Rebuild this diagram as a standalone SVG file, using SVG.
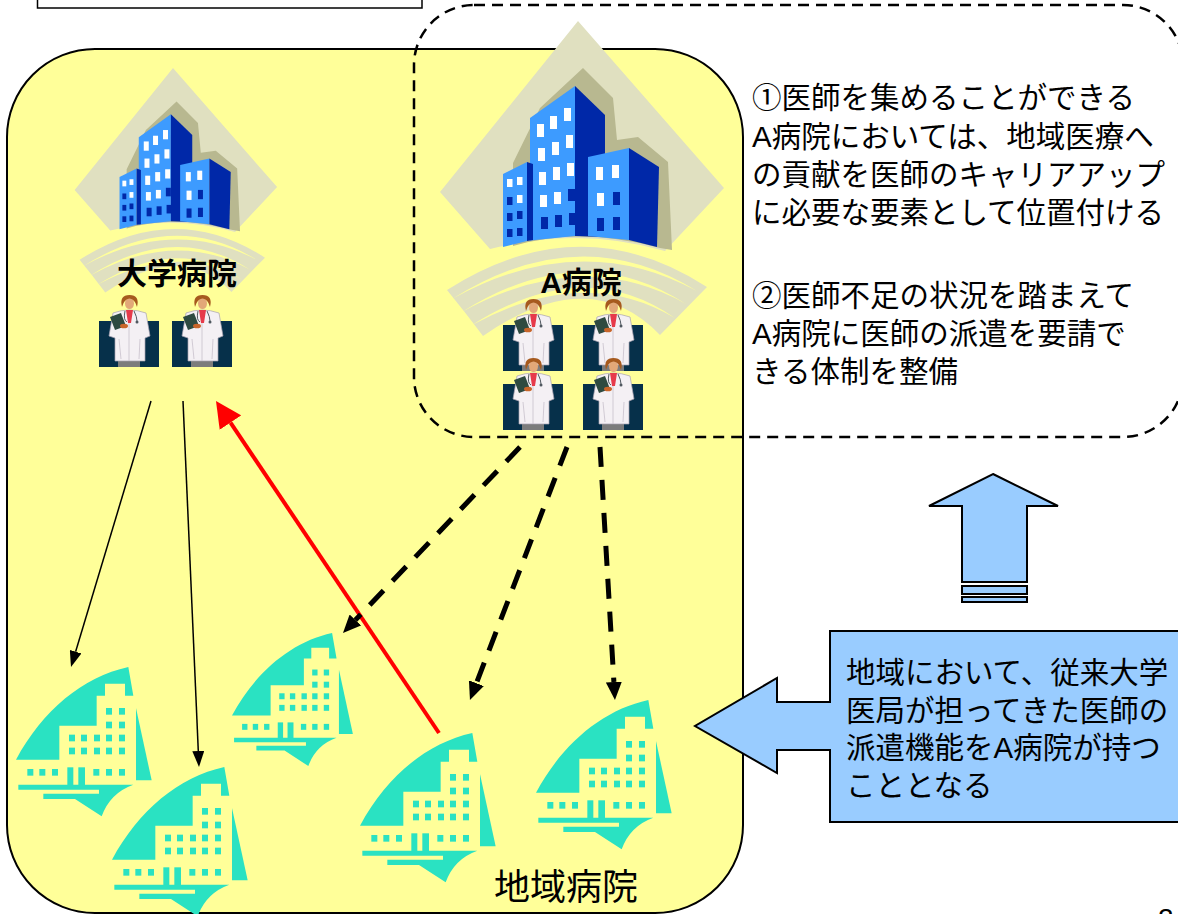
<svg xmlns="http://www.w3.org/2000/svg" width="1178" height="914" viewBox="0 0 1178 914">
<style>
.t{font-family:"Liberation Sans","Noto Sans CJK JP",sans-serif;fill:#000}
.jp{font-size:29.5px}
.lbl{font-size:30px;font-weight:bold;text-anchor:middle}
.teal{fill:#2AE2C2}
.kh{fill:#E0E0C0}
.sh{fill:#B8B890}
.lb{fill:#3D9BFF}
.db{fill:#0028A8}
.w{fill:#FFFFFF}
.yl{fill:#FFFF99}
.bigarrow{fill:#99CCFF;stroke:#000;stroke-width:2}
</style>
<defs>
<marker id="mThin" markerUnits="userSpaceOnUse" markerWidth="16" markerHeight="12" viewBox="0 0 16 12" refX="0" refY="6" orient="auto"><path d="M0,0 L16,6 L0,12 Z" fill="#000"/></marker>
<marker id="mDash" markerUnits="userSpaceOnUse" markerWidth="18" markerHeight="16" viewBox="0 0 18 16" refX="0" refY="8" orient="auto"><path d="M0,0 L18,8 L0,16 Z" fill="#000"/></marker>
<marker id="mRed" markerUnits="userSpaceOnUse" markerWidth="26" markerHeight="26" viewBox="0 0 26 26" refX="0" refY="13" orient="auto"><path d="M0,0 L26,13 L0,26 Z" fill="#FF0000"/></marker>

<g id="bldg">
<path class="kh" d="M578,21 L724,188 L665,251 Q578,226 490,249 L440,192 Z"/>
<path class="kh" d="M447,290 Q580,205 707,287 L660,335 Q590,262 483,336 Q465,312 447,290 Z"/>
<path class="yl" d="M452,299 Q580,218 697,291 Q580,228 452,299 Z"/>
<path class="yl" d="M462,312 Q582,236 686,304 Q582,246 462,312 Z"/>
<path class="yl" d="M472,325 Q584,254 675,318 Q584,264 472,325 Z"/>
<path class="sh" d="M513,163 L540,108 L583,68 L613,98 L617,140 L638,137 L668,162 L672,250 L660,248 Q580,226 513,246 Z"/>
<path class="lb" d="M530,118 L575,86 L575,236 L530,240.5 Z"/>
<path class="db" d="M575,86 L605,115 L605,237 L575,236 Z"/>
<path class="lb" d="M503,174 L527,162 L527,241 L503,247 Z"/>
<path class="db" d="M527,162 L533,164 L533,240 L527,241 Z"/>
<path class="lb" d="M588,157 L629,148 L629,240 L588,236 Z"/>
<path class="db" d="M629,148 L659,167 L657,247 L629,240 Z"/>
<g class="w">
<rect x="507" y="179" width="5.5" height="8"/><rect x="517" y="177" width="5.5" height="8"/>
<rect x="517" y="195" width="5.5" height="8"/>
<rect x="537" y="124" width="7" height="13"/><rect x="550" y="116" width="7" height="13"/><rect x="564" y="108" width="7" height="13"/>
<rect x="538" y="148" width="7" height="13"/><rect x="552" y="142" width="7" height="13"/><rect x="566" y="135" width="7" height="13"/>
<rect x="539" y="172" width="7" height="13"/><rect x="553" y="167" width="7" height="13"/><rect x="567" y="163" width="7" height="13"/>
<rect x="540" y="195" width="7" height="12"/><rect x="554" y="192" width="7" height="12"/>
<rect x="596" y="167" width="7" height="13"/><rect x="612" y="165" width="7" height="13"/>
<rect x="597" y="193" width="7" height="13"/>
</g>
<g class="db">
<rect x="507" y="197" width="5.5" height="8"/>
<rect x="507" y="213" width="5.5" height="8"/><rect x="517" y="211" width="5.5" height="8"/>
<rect x="507" y="229" width="5.5" height="8"/><rect x="517" y="228" width="5.5" height="8"/>
<rect x="568" y="189" width="7" height="12"/>
<rect x="541" y="217" width="7" height="12"/><rect x="555" y="215" width="7" height="12"/><rect x="569" y="213" width="7" height="12"/>
<rect x="613" y="192" width="7" height="13"/>
<rect x="597" y="218" width="7" height="13"/><rect x="613" y="217" width="7" height="13"/>
</g>
</g>

<g id="doc">
<rect x="0" y="26" width="60" height="46" fill="#06304A"/>
<rect x="19" y="64" width="22" height="8" fill="#7C7C7C"/>
<path d="M14,18 Q30,12 47,18 L51,41 L46,43 L46,66 L16,66 L16,43 L10,41 Z" fill="#F4F0F4" stroke="#A8A0B0" stroke-width="0.7"/>
<path d="M30,24 L30,66 M20,44 L22,64 M41,44 L40,64" stroke="#C8C0CC" stroke-width="0.8" fill="none"/>
<path d="M27,15 L34,15 L32,28 L29,28 Z" fill="#E63A4A"/>
<ellipse cx="30.5" cy="8.5" rx="4.5" ry="5.5" fill="#E2A878"/>
<path d="M23,12 Q20,0 30.5,0 Q41,0 38,12 Q36,4 30.5,3.5 Q25,4 23,12 Z" fill="#A65A1E"/>
<path d="M26,16 Q24,25 28,27 M35,16 Q38,22 38,26" fill="none" stroke="#505860" stroke-width="1"/>
<circle cx="38" cy="27" r="1.5" fill="#505860"/>
<path d="M11,22 L22,18 L27,31 L16,35 Z" fill="#2E4A40"/>
<ellipse cx="25" cy="31" rx="4" ry="2.3" fill="#C8652A"/>
</g>

<g id="local" class="teal">
<path d="M0,278 C80,130 200,30 337,0 L352,86 L327,86 L327,50 L267,50 L267,86 L242,86 L242,176 L130,176 L130,278 Z"/>
<rect x="270" y="123" width="18" height="20"/><rect x="309" y="123" width="18" height="20"/>
<rect x="270" y="164" width="18" height="20"/><rect x="309" y="164" width="18" height="20"/>
<rect x="159" y="203" width="18" height="20"/><rect x="195" y="203" width="18" height="20"/><rect x="234" y="203" width="18" height="20"/><rect x="270" y="203" width="18" height="20"/><rect x="309" y="203" width="18" height="20"/>
<rect x="159" y="242" width="18" height="20"/><rect x="195" y="242" width="18" height="20"/><rect x="234" y="242" width="18" height="20"/><rect x="270" y="242" width="18" height="20"/><rect x="309" y="242" width="18" height="20"/>
<rect x="34" y="306" width="18" height="20"/><rect x="70" y="306" width="18" height="20"/><rect x="108" y="306" width="18" height="20"/>
<rect x="232" y="306" width="18" height="20"/><rect x="270" y="306" width="18" height="20"/><rect x="309" y="306" width="18" height="20"/>
<rect x="154" y="301" width="18" height="53"/><rect x="187" y="301" width="20" height="53"/>
<polygon points="360,123 407,340 360,340"/>
<path d="M7,353 L352,353 Q282,378 257,448 L177,396 L82,396 L82,380 L249,380 L249,368 L7,368 Z"/>
</g>
</defs>

<g id="title-box"><rect x="37.5" y="-10" width="384.5" height="18" fill="#FFFFFF" stroke="#000" stroke-width="1.5"/></g>

<g id="region"><rect x="7" y="49" width="736" height="864" rx="88" ry="88" fill="#FFFF99" stroke="#000" stroke-width="2"/></g>

<g id="a-group-border"><rect x="414" y="5" width="769" height="432" rx="60" ry="60" fill="none" stroke="#000" stroke-width="2.5" stroke-dasharray="11,7"/></g>

<g id="node-daigaku">
<use href="#bldg" transform="translate(173,68) scale(0.713) translate(-578,-21)"/>
<text class="t lbl" x="177" y="284">大学病院</text>
<use href="#doc" transform="translate(99,295)"/>
<use href="#doc" transform="translate(172,295)"/>
</g>

<g id="node-a">
<use href="#bldg"/>
<text class="t lbl" x="581" y="293">A病院</text>
<use href="#doc" transform="translate(503,299)"/>
<use href="#doc" transform="translate(583,299)"/>
<use href="#doc" transform="translate(503,358)"/>
<use href="#doc" transform="translate(583,358)"/>
</g>

<g id="node-h1"><use href="#local" transform="translate(16,667) scale(0.3333)"/></g>
<g id="node-h2"><use href="#local" transform="translate(112,767) scale(0.3333)"/></g>
<g id="node-h3"><use href="#local" transform="translate(232,633) scale(0.297)"/></g>
<g id="node-h4"><use href="#local" transform="translate(360,733) scale(0.3333)"/></g>
<g id="node-h5"><use href="#local" transform="translate(536,700) scale(0.3333)"/></g>
<g id="label-chiiki"><text class="t" x="494" y="900" font-size="36">地域病院</text></g>

<g id="connectors">
<line x1="151" y1="401" x2="75.6" y2="651.7" stroke="#000" stroke-width="1.5" marker-end="url(#mThin)"/>
<line x1="183" y1="401" x2="198.3" y2="751" stroke="#000" stroke-width="1.5" marker-end="url(#mThin)"/>
<line x1="439" y1="733" x2="230.5" y2="422.6" stroke="#FF0000" stroke-width="4" marker-end="url(#mRed)"/>
<line x1="520" y1="447" x2="355.4" y2="620" stroke="#000" stroke-width="5" stroke-dasharray="20,13" marker-end="url(#mDash)"/>
<line x1="567" y1="447" x2="476.4" y2="683.2" stroke="#000" stroke-width="5" stroke-dasharray="20,13" marker-end="url(#mDash)"/>
<line x1="600" y1="447" x2="613.9" y2="682" stroke="#000" stroke-width="5" stroke-dasharray="20,13" marker-end="url(#mDash)"/>
</g>

<g id="note-a">
<text class="t jp" x="752" y="108">①医師を集めることができる</text>
<text class="t jp" x="752" y="146.5">A病院においては、地域医療へ</text>
<text class="t jp" x="752" y="185">の貢献を医師のキャリアアップ</text>
<text class="t jp" x="752" y="223">に必要な要素として位置付ける</text>
<text class="t jp" x="752" y="306">②医師不足の状況を踏まえて</text>
<text class="t jp" x="752" y="344">A病院に医師の派遣を要請で</text>
<text class="t jp" x="752" y="382">きる体制を整備</text>
</g>

<g id="up-arrow">
<path class="bigarrow" d="M993,474 L1058,506 L1027,506 L1027,582 L962,582 L962,506 L929,506 Z"/>
<rect class="bigarrow" x="962" y="586" width="65" height="8" stroke-width="1.5"/>
<rect class="bigarrow" x="962" y="597" width="65" height="5" stroke-width="1.5"/>
</g>

<g id="callout">
<path class="bigarrow" d="M830,631 L1195,631 L1195,822 L830,822 L830,750 L777,750 L777,773 L695,726 L777,678 L777,702 L830,702 Z"/>
<text class="t jp" x="846" y="683">地域において、従来大学</text>
<text class="t jp" x="846" y="720.5">医局が担ってきた医師の</text>
<text class="t jp" x="846" y="758">派遣機能をA病院が持つ</text>
<text class="t jp" x="846" y="795.5">こととなる</text>
</g>

<g id="page-number"><text class="t" x="1158" y="928" font-size="28">2</text></g>
</svg>
